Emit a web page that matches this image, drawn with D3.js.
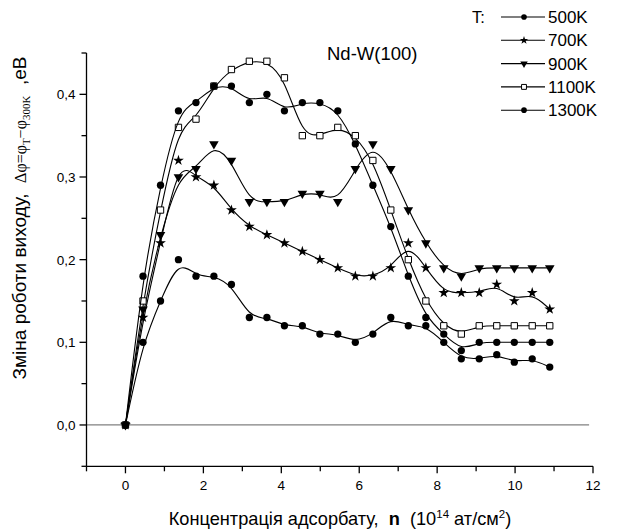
<!DOCTYPE html>
<html>
<head>
<meta charset="utf-8">
<script src="https://cdn.jsdelivr.net/npm/d3@7"></script>
<style>
  body { margin: 0; background: #fff; }
  svg { font-family: "Liberation Sans", Arial, sans-serif; }
</style>
</head>
<body>
<div id="chart"></div>
<script>
// coverage n, 10^14 at/cm^2
var coverage = [0, 0.45, 0.9, 1.36, 1.81, 2.27, 2.72, 3.18, 3.63, 4.08, 4.54, 4.99, 5.45,
                5.9, 6.35, 6.81, 7.26, 7.71, 8.17, 8.62, 9.08, 9.53, 9.98, 10.44, 10.89];

var t500  = [0, 0.10, 0.15, 0.20, 0.18, 0.18, 0.17, 0.13, 0.13, 0.12, 0.12, 0.11, 0.11,
             0.10, 0.11, 0.13, 0.12, 0.12, 0.10, 0.08, 0.08, 0.085, 0.076, 0.08, 0.07];
var t700  = [0, 0.13, 0.22, 0.32, 0.30, 0.29, 0.26, 0.24, 0.23, 0.22, 0.21, 0.20, 0.19,
             0.18, 0.18, 0.19, 0.22, 0.19, 0.16, 0.16, 0.16, 0.17, 0.15, 0.16, 0.14];
var t900  = [0, 0.14, 0.23, 0.30, 0.31, 0.34, 0.32, 0.27, 0.27, 0.27, 0.28, 0.28, 0.27,
             0.31, 0.34, 0.31, 0.26, 0.22, 0.19, 0.18, 0.19, 0.19, 0.19, 0.19, 0.19];
var t1100 = [0, 0.15, 0.26, 0.36, 0.37, 0.41, 0.43, 0.44, 0.44, 0.42, 0.35, 0.35, 0.36,
             0.35, 0.32, 0.26, 0.20, 0.15, 0.12, 0.11, 0.12, 0.12, 0.12, 0.12, 0.12];
var t1300 = [0, 0.18, 0.29, 0.38, 0.39, 0.41, 0.41, 0.39, 0.40, 0.38, 0.39, 0.39, 0.38,
             0.34, 0.29, 0.24, 0.18, 0.13, 0.11, 0.09, 0.10, 0.10, 0.10, 0.10, 0.10];

var seriesNames = ["500K", "700K", "900K", "1100K", "1300K"];
var markers = ["circle", "star", "triangle", "square", "circle"];
var xTicks = [0, 2, 4, 6, 8, 10, 12];
var yTicks = [0, 0.1, 0.2, 0.3, 0.4];

var allSeries = [t500, t700, t900, t1100, t1300];

var width = 618, height = 532;
var svg = d3.select("#chart").append("svg")
    .attr("width", width)
    .attr("height", height);

var x = d3.scaleLinear().domain([-1, 12]).range([86.5, 593]);
var y = d3.scaleLinear().domain([-0.05, 0.45]).range([466.3, 53]);

// zero line
svg.append("line")
    .attr("x1", x(-1)).attr("x2", x(11.9))
    .attr("y1", y(0)).attr("y2", y(0))
    .attr("stroke", "#808080").attr("stroke-width", 1.3);

// axes
var fmt = function(d) { return d3.format(".1f")(d).replace(".", ","); };

var xAxis = svg.append("g").attr("transform", "translate(0," + y(-0.05) + ")");
xAxis.append("line").attr("x1", x(-1)).attr("x2", x(12)).attr("stroke", "#000").attr("stroke-width", 1.3);
xAxis.selectAll(".minor").data(d3.range(-1, 12.5, 1)).enter().append("line")
    .attr("x1", function(d) { return x(d); }).attr("x2", function(d) { return x(d); })
    .attr("y1", 0).attr("y2", function(d) { return d % 2 === 0 ? 7 : 5; })
    .attr("stroke", "#000").attr("stroke-width", 1.3);
xAxis.selectAll("text").data(xTicks).enter().append("text")
    .attr("x", function(d) { return x(d); })
    .attr("y", 24)
    .attr("text-anchor", "middle")
    .attr("font-size", 13.5)
    .text(function(d) { return d; });

var yAxis = svg.append("g").attr("transform", "translate(" + x(-1) + ",0)");
yAxis.append("line").attr("y1", y(-0.05)).attr("y2", y(0.45)).attr("stroke", "#000").attr("stroke-width", 1.3);
yAxis.selectAll(".tk").data(d3.range(-0.05, 0.46, 0.05)).enter().append("line")
    .attr("y1", function(d) { return y(d); }).attr("y2", function(d) { return y(d); })
    .attr("x1", 0).attr("x2", function(d, i) { return i % 2 === 1 ? -7 : -5; })
    .attr("stroke", "#000").attr("stroke-width", 1.3);
yAxis.selectAll("text").data(yTicks).enter().append("text")
    .attr("x", -11)
    .attr("y", function(d) { return y(d) + 5; })
    .attr("text-anchor", "end")
    .attr("font-size", 13.5)
    .text(fmt);

// axis titles
var xt = svg.append("text")
    .attr("x", 340).attr("y", 525)
    .attr("text-anchor", "middle")
    .attr("font-size", 18.2)
    .style("white-space", "pre");
xt.append("tspan").text("Концентрація адсорбату,  ");
xt.append("tspan").attr("font-weight", "bold").text("n");
xt.append("tspan").text("  (10");
xt.append("tspan").attr("font-size", 11.5).attr("dy", -7).text("14");
xt.append("tspan").attr("dy", 7).text(" ат/см");
xt.append("tspan").attr("font-size", 11.5).attr("dy", -7).text("2");
xt.append("tspan").attr("dy", 7).text(")");

var yt = svg.append("text")
    .attr("transform", "translate(26,218) rotate(-90)")
    .attr("text-anchor", "middle")
    .attr("font-size", 19)
    .style("white-space", "pre");
yt.append("tspan").text("Зміна роботи виходу,  ");
yt.append("tspan").attr("font-family", "Liberation Serif, serif").attr("font-size", 16).text("Δφ=φ");
yt.append("tspan").attr("font-family", "Liberation Serif, serif").attr("font-size", 11).attr("dy", 4).text("T");
yt.append("tspan").attr("font-family", "Liberation Serif, serif").attr("font-size", 16).attr("dy", -4).text("−φ");
yt.append("tspan").attr("font-family", "Liberation Serif, serif").attr("font-size", 11).attr("dy", 4).text("300K");
yt.append("tspan").attr("dy", -4).text("  ,еВ");

svg.append("text")
    .attr("x", 327).attr("y", 60)
    .attr("font-size", 18.5)
    .text("Nd-W(100)");

// curves
var line = d3.line()
    .x(function(d) { return x(d[0]); })
    .y(function(d) { return y(d[1]); })
    .curve(d3.curveBasis);

function symbolFor(kind, s) {
    if (kind === "circle") return d3.symbol().type(d3.symbolCircle).size(42 * s)();
    if (kind === "star") return d3.symbol().type(d3.symbolStar).size(36 * s)();
    if (kind === "triangle") return d3.symbol().type(d3.symbolTriangle).size(40 * s)();
    return d3.symbol().type(d3.symbolSquare).size(40 * s)();
}

function drawMarker(g, kind, cx, cy, s) {
    var p = g.append("path")
        .attr("d", symbolFor(kind, s || 1))
        .attr("transform", "translate(" + cx + "," + cy + ")" + (kind === "triangle" ? " rotate(180)" : ""));
    if (kind === "square") {
        p.attr("fill", "#fff").attr("stroke", "#000").attr("stroke-width", 1);
    } else {
        p.attr("fill", "#000");
    }
}

allSeries.forEach(function(vals, k) {
    var pts = coverage.map(function(c, i) { return [c, vals[i]]; });
    var g = svg.append("g");
    g.append("path")
        .attr("d", line(pts))
        .attr("fill", "none")
        .attr("stroke", "#000")
        .attr("stroke-width", 1.1);
    pts.forEach(function(p) { drawMarker(g, markers[k], x(p[0]), y(p[1])); });
});

// legend
svg.append("text").attr("x", 472).attr("y", 23).attr("font-size", 16.5).text("T:");
seriesNames.forEach(function(name, k) {
    var ly = 17 + k * 23.3;
    svg.append("line")
        .attr("x1", 501).attr("x2", 545)
        .attr("y1", ly).attr("y2", ly)
        .attr("stroke", "#000").attr("stroke-width", 1.1);
    drawMarker(svg, markers[k], 524, ly, 0.6);
    svg.append("text")
        .attr("x", 548).attr("y", ly + 6)
        .attr("font-size", 17)
        .text(name);
});
</script>
</body>
</html>
